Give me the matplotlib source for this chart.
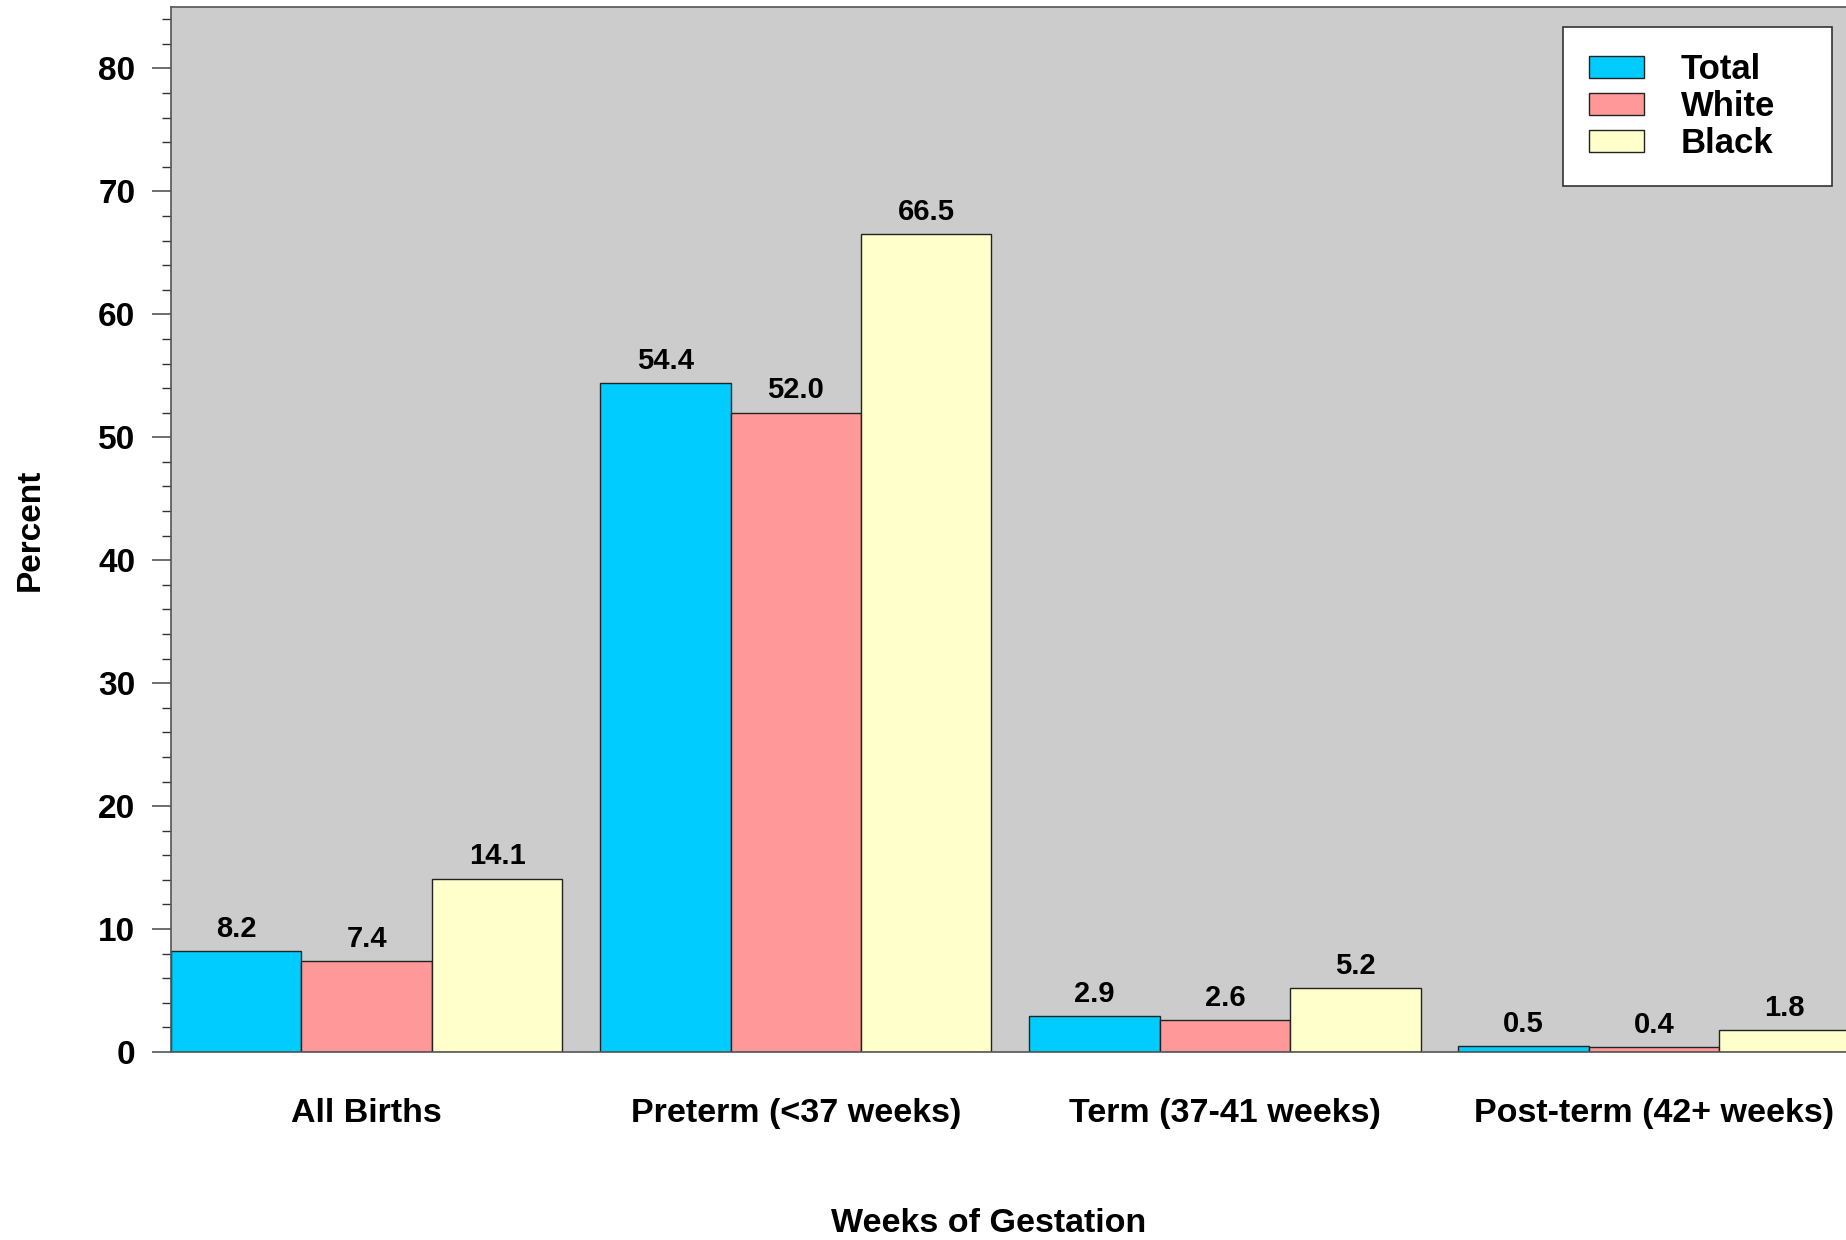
import numpy as np
import matplotlib.pyplot as plt
from matplotlib.ticker import MultipleLocator

plt.rcParams['font.family'] = ['Liberation Sans', 'DejaVu Sans']
plt.rcParams['font.weight'] = 'bold'

categories = ['All Births', 'Preterm (<37 weeks)', 'Term (37-41 weeks)', 'Post-term (42+ weeks)']
series = ['Total', 'White', 'Black']
total = [8.2, 54.4, 2.9, 0.5]
white = [7.4, 52.0, 2.6, 0.4]
black = [14.1, 66.5, 5.2, 1.8]
colors = ['#00CCFF', '#FF9999', '#FFFFCC']

gap = 0.29
step = 3 + gap
x = np.arange(len(categories)) * step

fig = plt.figure(figsize=(18.46, 12.40), dpi=100)
ax = fig.add_axes([171 / 1846, 1 - 1052 / 1240, 1 - 171 / 1846 + 0.002, (1052 - 7) / 1240])
ax.set_facecolor('#CCCCCC')

for i, (name, vals, color) in enumerate(zip(series, [total, white, black], colors)):
    bars = ax.bar(x + (i - 1), vals, width=1.0, color=color, edgecolor='#222222',
                  linewidth=1.0, label=name)
    ax.bar_label(bars, labels=[f'{v:.1f}' for v in vals], padding=6,
                 fontsize=21, fontweight='bold')

ax.set_xlim(x[0] - 1.5, x[-1] + 1.5)
ax.set_ylim(0, 85)
ax.yaxis.set_major_locator(MultipleLocator(10))
ax.yaxis.set_minor_locator(MultipleLocator(2))
ax.tick_params(axis='y', which='major', length=13.7, width=1.2, color='#555555',
               labelsize=24, pad=12)
ax.tick_params(axis='y', which='minor', length=6.5, width=1.0, color='#333333')
ax.set_xticks(x)
ax.set_xticklabels(categories, fontsize=24.5, fontweight='bold')
ax.tick_params(axis='x', length=0, pad=33)
for lab in ax.get_yticklabels():
    lab.set_fontweight('bold')

for s in ax.spines.values():
    s.set_color('#555555')
    s.set_linewidth(1.2)

ax.set_ylabel('Percent', fontsize=24, fontweight='bold', labelpad=38)
fig.text(989 / 1846, 1 - 1224 / 1240, 'Weeks of Gestation', ha='center', va='center',
         fontsize=24.5, fontweight='bold')

leg = ax.legend(loc='upper right', bbox_to_anchor=(0.829, 0.0, 0.1603, 0.981),
                mode='expand', borderaxespad=0,
                handlelength=1.6, handleheight=0.6, handletextpad=1.05,
                labelspacing=0.12, borderpad=0.75, fancybox=False, framealpha=1,
                edgecolor='#333333', prop={'weight': 'bold', 'size': 25})
leg.get_frame().set_linewidth(1.2)

fig.savefig('out.png', dpi=100)
plt.close(fig)
